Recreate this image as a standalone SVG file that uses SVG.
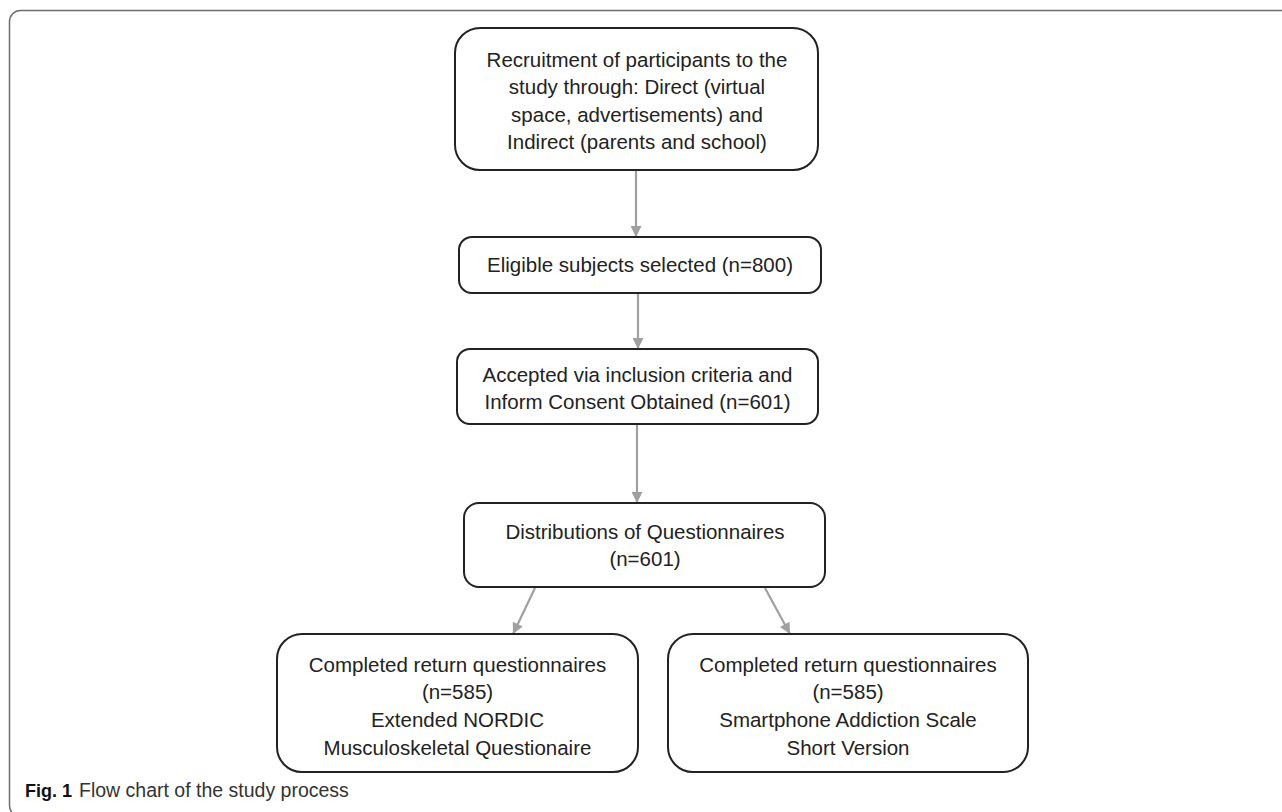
<svg xmlns="http://www.w3.org/2000/svg" width="1282" height="812" viewBox="0 0 1282 812">
<style>
.box{fill:#fff;stroke:#222;stroke-width:2}
.t{font-family:"Liberation Sans",Arial,sans-serif;font-size:20.5px;fill:#222;text-anchor:middle}
.conn{stroke:#a0a0a0;stroke-width:2.2;fill:none;marker-end:url(#ah)}
.cap{font-family:"Liberation Sans",Arial,sans-serif;font-size:19.5px;fill:#333}
</style>
<defs>
<marker id="ah" viewBox="0 0 10 10" refX="10" refY="5" markerWidth="5.5" markerHeight="5" orient="auto" markerUnits="strokeWidth">
<path d="M0,0 L10,5 L0,10 z" fill="#a0a0a0"/>
</marker>
</defs>
<rect x="0" y="0" width="1282" height="812" fill="#fff"/>
<rect x="9.5" y="10.5" width="1300" height="806" rx="11" fill="none" stroke="#6e6e6e" stroke-width="1.5"/>
<g id="connectors">
<line class="conn" x1="636" y1="171" x2="636" y2="237"/>
<line class="conn" x1="638" y1="294" x2="638" y2="349"/>
<line class="conn" x1="637" y1="425" x2="637" y2="503"/>
<line class="conn" x1="535" y1="588" x2="513" y2="634"/>
<line class="conn" x1="765" y1="588" x2="790" y2="634"/>
</g>
<g id="n1">
<rect class="box" x="455" y="28" width="363" height="142" rx="25"/>
<text class="t" x="637" y="67">Recruitment of participants to the</text>
<text class="t" x="637" y="94">study through: Direct (virtual</text>
<text class="t" x="637" y="122">space, advertisements) and</text>
<text class="t" x="637" y="149">Indirect (parents and school)</text>
</g>
<g id="n2">
<rect class="box" x="459" y="237" width="362" height="56" rx="13"/>
<text class="t" x="640" y="272">Eligible subjects selected (n=800)</text>
</g>
<g id="n3">
<rect class="box" x="457" y="349" width="361" height="75" rx="13"/>
<text class="t" x="637.5" y="382">Accepted via inclusion criteria and</text>
<text class="t" x="637.5" y="409">Inform Consent Obtained (n=601)</text>
</g>
<g id="n4">
<rect class="box" x="464" y="503" width="361" height="84" rx="15"/>
<text class="t" x="645" y="539">Distributions of Questionnaires</text>
<text class="t" x="645" y="566">(n=601)</text>
</g>
<g id="n5">
<rect class="box" x="277" y="634" width="361" height="138" rx="25"/>
<text class="t" x="457.5" y="672">Completed return questionnaires</text>
<text class="t" x="457.5" y="699">(n=585)</text>
<text class="t" x="457.5" y="727">Extended NORDIC</text>
<text class="t" x="457.5" y="755">Musculoskeletal Questionaire</text>
</g>
<g id="n6">
<rect class="box" x="668" y="634" width="360" height="138" rx="25"/>
<text class="t" x="848" y="672">Completed return questionnaires</text>
<text class="t" x="848" y="699">(n=585)</text>
<text class="t" x="848" y="727">Smartphone Addiction Scale</text>
<text class="t" x="848" y="755">Short Version</text>
</g>
<g id="caption">
<text class="cap" x="25" y="797"><tspan font-weight="bold" fill="#111" font-size="18">Fig. 1</tspan><tspan x="79">Flow chart of the study process</tspan></text>
</g>
</svg>
